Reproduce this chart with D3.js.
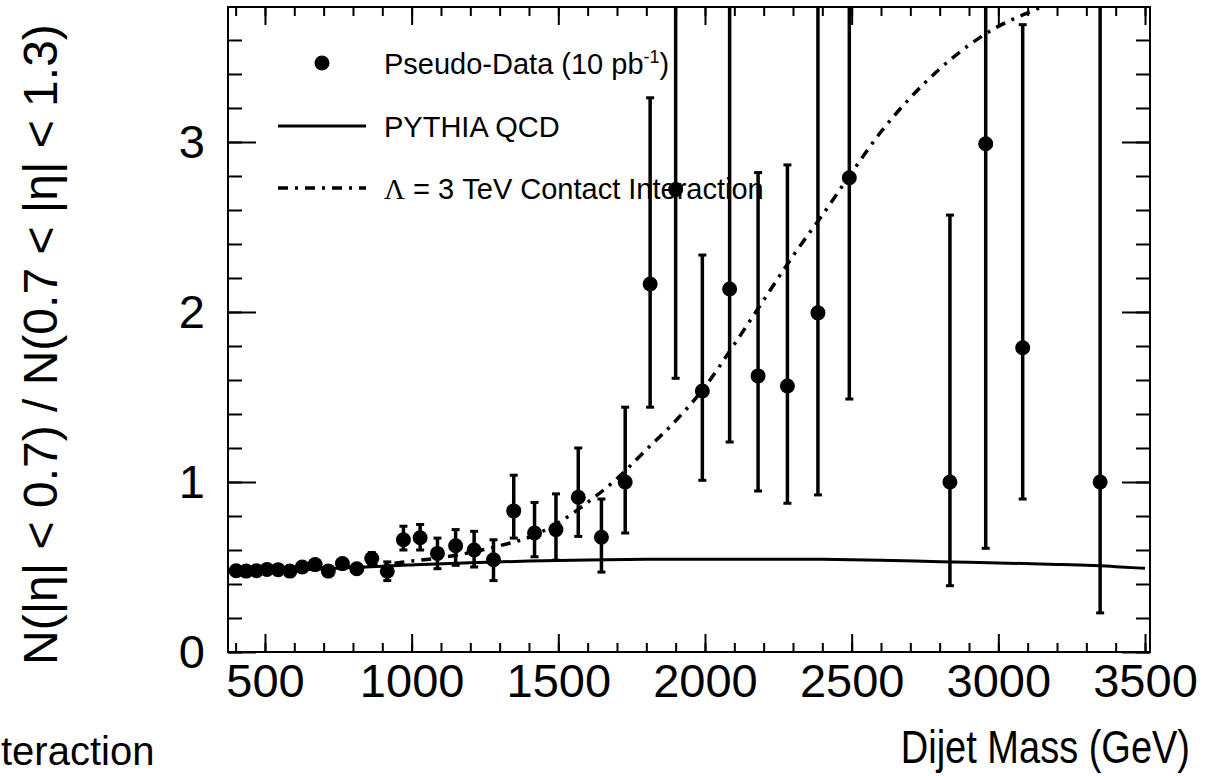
<!DOCTYPE html>
<html>
<head>
    <meta charset="utf-8">
    <title>Dijet ratio</title>
    <script src="https://d3js.org/d3.v7.min.js"></script>
    <style>
        body { margin: 0; background: #fff; }
        text { font-family: "Liberation Sans", Arial, Helvetica, sans-serif; fill: #000; }
    </style>
</head>

<body>
<div id="chart"></div>
<script type="text/javascript">

    // pseudo-data: bin centres (GeV), ratio and error bar ends
    let mass = [402, 436, 471, 507, 545, 585, 627, 671, 716, 764, 813, 864, 917,
                972, 1029, 1088, 1150, 1213, 1279, 1348, 1419, 1492, 1568, 1647, 1728,
                1813, 1900, 1991, 2084, 2181, 2281, 2385, 2492, 2835, 2957, 3083, 3347];
    let ratio = [0.478, 0.476, 0.478, 0.486, 0.484, 0.476, 0.50, 0.514, 0.476, 0.52, 0.49, 0.55, 0.475,
                 0.66, 0.672, 0.58, 0.625, 0.60, 0.543, 0.83, 0.70, 0.72, 0.91, 0.675, 1.0,
                 2.165, 2.72, 1.535, 2.135, 1.624, 1.565, 1.995, 2.79, 1.0, 2.99, 1.79, 1.0];
    let errHigh = [0.488, 0.486, 0.488, 0.498, 0.497, 0.49, 0.516, 0.532, 0.496, 0.542, 0.515, 0.585, 0.53,
                   0.74, 0.75, 0.67, 0.72, 0.71, 0.66, 1.04, 0.88, 0.93, 1.20, 0.90, 1.44,
                   3.26, 4.0, 2.335, 3.95, 2.82, 2.865, 4.2, 4.4, 2.57, 4.5, 3.69, 4.5];
    let errLow = [0.468, 0.466, 0.468, 0.474, 0.471, 0.462, 0.484, 0.496, 0.456, 0.498, 0.465, 0.515, 0.42,
                  0.60, 0.60, 0.49, 0.51, 0.50, 0.42, 0.67, 0.56, 0.54, 0.68, 0.47, 0.70,
                  1.44, 1.61, 1.01, 1.235, 0.947, 0.875, 0.924, 1.488, 0.39, 0.61, 0.90, 0.23];

    // PYTHIA QCD prediction
    let qcdMass = [390, 500, 600, 700, 800, 900, 1000, 1200, 1400, 1600, 1800, 2000,
                   2200, 2400, 2600, 2800, 3000, 3200, 3400, 3500];
    let qcdRatio = [0.475, 0.478, 0.483, 0.49, 0.497, 0.505, 0.512, 0.525, 0.535, 0.541, 0.545, 0.546,
                    0.546, 0.545, 0.54, 0.531, 0.524, 0.515, 0.502, 0.492];

    // contact interaction, Lambda = 3 TeV
    let ciMass = [390, 500, 600, 700, 800, 900, 1000, 1100, 1200, 1300, 1400, 1500, 1600, 1700,
                  1800, 1900, 2000, 2100, 2200, 2300, 2400, 2500, 2600, 2700, 2800, 2900, 3000, 3100, 3200];
    let ciRatio = [0.476, 0.48, 0.486, 0.494, 0.503, 0.515, 0.535, 0.555, 0.585, 0.625, 0.675, 0.76, 0.88, 1.02,
                   1.19, 1.36, 1.56, 1.81, 2.07, 2.33, 2.57, 2.82, 3.06, 3.26, 3.43, 3.57, 3.68, 3.76, 3.83];

    let xMajor = [500, 1000, 1500, 2000, 2500, 3000, 3500];
    let yMajor = [0, 1, 2, 3];
    let legendLabels = ["Pseudo-Data (10 pb", "PYTHIA QCD", "= 3 TeV Contact Interaction"];

    let margin = {top: 7, right: 56, bottom: 124, left: 228};
    let w = 1206 - margin.left - margin.right;
    let h = 776 - margin.top - margin.bottom;

    let root = d3.select("#chart")
        .append("svg")
        .attr("width", 1206)
        .attr("height", 776);

    root.append("rect").attr("width", 1206).attr("height", 776).attr("fill", "#fff");

    let svg = root.append("g")
        .attr("transform", "translate(" + margin.left + "," + margin.top + ")");

    let xScale = d3.scaleLinear().domain([374, 3517]).range([0, w]);
    let yScale = d3.scaleLinear().domain([0, 3.794]).range([h, 0]);

    svg.append("clipPath").attr("id", "frame")
        .append("rect").attr("width", w).attr("height", h);

    let xMinor = d3.range(400, 3501, 100);
    let yMinor = d3.range(0, 3.79, 0.2);

    function styleAxis(g) {
        g.select(".domain").remove();
        g.selectAll("line").attr("stroke", "#000").attr("stroke-width", 2);
        g.selectAll("text").attr("font-size", "47px").attr("font-family", null);
    }

    // minor ticks
    svg.append("g").attr("transform", "translate(0," + h + ")")
        .call(d3.axisBottom(xScale).tickValues(xMinor).tickSize(-9).tickFormat("")).call(styleAxis);
    svg.append("g")
        .call(d3.axisTop(xScale).tickValues(xMinor).tickSize(-9).tickFormat("")).call(styleAxis);
    svg.append("g")
        .call(d3.axisLeft(yScale).tickValues(yMinor).tickSize(-14).tickFormat("")).call(styleAxis);
    svg.append("g").attr("transform", "translate(" + w + ",0)")
        .call(d3.axisRight(yScale).tickValues(yMinor).tickSize(-14).tickFormat("")).call(styleAxis);

    // major ticks with labels
    svg.append("g").attr("transform", "translate(0," + h + ")")
        .call(d3.axisBottom(xScale).tickValues(xMajor).tickSize(-18).tickPadding(12).tickFormat(d3.format("d")))
        .call(styleAxis);
    svg.append("g")
        .call(d3.axisTop(xScale).tickValues(xMajor).tickSize(-18).tickFormat("")).call(styleAxis);
    svg.append("g")
        .call(d3.axisLeft(yScale).tickValues(yMajor).tickSize(-28).tickPadding(23).tickFormat(d3.format("d")))
        .call(styleAxis);
    svg.append("g").attr("transform", "translate(" + w + ",0)")
        .call(d3.axisRight(yScale).tickValues(yMajor).tickSize(-28).tickFormat("")).call(styleAxis);

    svg.append("rect")
        .attr("width", w).attr("height", h)
        .attr("fill", "none").attr("stroke", "#000").attr("stroke-width", 2);

    let plot = svg.append("g").attr("clip-path", "url(#frame)");

    let line = d3.line()
        .x(function(d) { return xScale(d[0]); })
        .y(function(d) { return yScale(d[1]); })
        .curve(d3.curveMonotoneX);

    plot.append("path")
        .datum(d3.zip(qcdMass, qcdRatio))
        .attr("d", line)
        .attr("fill", "none").attr("stroke", "#000").attr("stroke-width", 3);

    plot.append("path")
        .datum(d3.zip(ciMass, ciRatio))
        .attr("d", line)
        .attr("fill", "none").attr("stroke", "#000").attr("stroke-width", 3.5)
        .attr("stroke-dasharray", "10,7,3,7");

    let points = d3.range(mass.length);

    plot.selectAll(".err")
        .data(points)
        .enter()
        .append("line")
        .attr("x1", function(i) { return xScale(mass[i]); })
        .attr("x2", function(i) { return xScale(mass[i]); })
        .attr("y1", function(i) { return yScale(errLow[i]); })
        .attr("y2", function(i) { return yScale(errHigh[i]); })
        .attr("stroke", "#000").attr("stroke-width", 3.5);

    // caps only where the bar ends inside the frame
    let caps = [];
    points.forEach(function(i) {
        caps.push([mass[i], errLow[i]]);
        if (errHigh[i] < 3.79) caps.push([mass[i], errHigh[i]]);
    });
    plot.selectAll(".cap")
        .data(caps)
        .enter()
        .append("line")
        .attr("x1", function(d) { return xScale(d[0]) - 4; })
        .attr("x2", function(d) { return xScale(d[0]) + 4; })
        .attr("y1", function(d) { return yScale(d[1]); })
        .attr("y2", function(d) { return yScale(d[1]); })
        .attr("stroke", "#000").attr("stroke-width", 3);

    plot.selectAll("circle")
        .data(points)
        .enter()
        .append("circle")
        .attr("cx", function(i) { return xScale(mass[i]); })
        .attr("cy", function(i) { return yScale(ratio[i]); })
        .attr("r", 7.5)
        .attr("fill", "#000");

    // legend
    let leg = root.append("g");
    leg.append("circle").attr("cx", 322).attr("cy", 63).attr("r", 7.5).attr("fill", "#000");
    leg.append("line").attr("x1", 278).attr("x2", 366).attr("y1", 126).attr("y2", 126)
        .attr("stroke", "#000").attr("stroke-width", 3);
    leg.append("line").attr("x1", 278).attr("x2", 366).attr("y1", 188).attr("y2", 188)
        .attr("stroke", "#000").attr("stroke-width", 3.5).attr("stroke-dasharray", "10,7,3,7");

    let t0 = leg.append("text").attr("x", 384).attr("y", 74).attr("font-size", "29px");
    t0.append("tspan").text(legendLabels[0]);
    t0.append("tspan").attr("dy", -11).attr("font-size", "18px").text("-1");
    t0.append("tspan").attr("dy", 11).text(")");

    leg.append("text").attr("x", 384).attr("y", 137).attr("font-size", "29px").text(legendLabels[1]);

    let t2 = leg.append("text").attr("x", 384).attr("y", 199).attr("font-size", "29px");
    t2.append("tspan").attr("font-family", "'Liberation Serif', serif").text("\u039B");
    t2.append("tspan").text(" " + legendLabels[2]);

    // axis titles
    root.append("text")
        .attr("transform", "translate(1190,763) scale(1,1.22)")
        .attr("text-anchor", "end")
        .attr("font-size", "38px")
        .text("Dijet Mass (GeV)");

    root.append("text")
        .attr("transform", "translate(57,665) rotate(-90)")
        .attr("font-size", "48px")
        .text("N(|\u03B7| < 0.7) / N(0.7 < |\u03B7| < 1.3)");

    root.append("text")
        .attr("x", 1).attr("y", 765)
        .attr("font-size", "40px")
        .text("teraction");

</script>
</body>
</html>
